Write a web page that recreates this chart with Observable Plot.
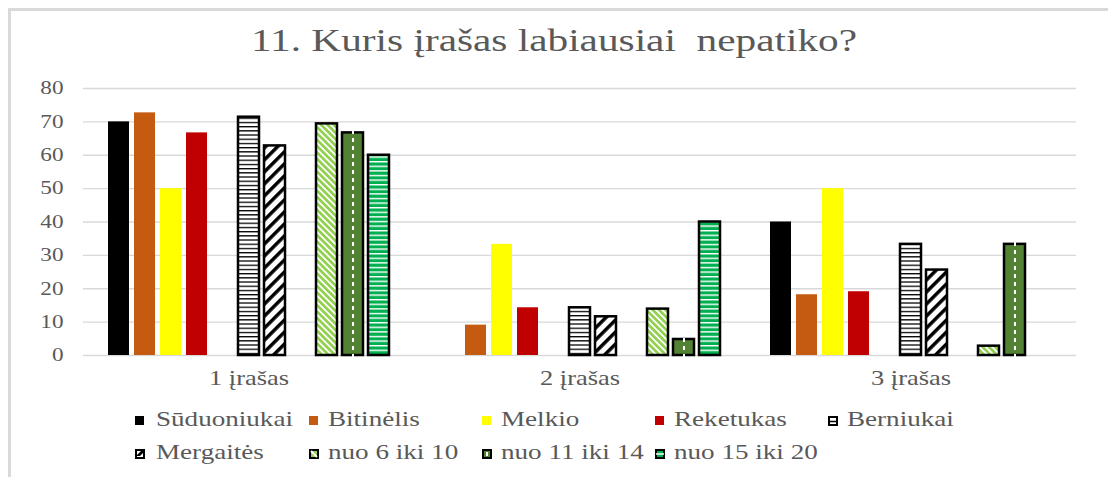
<!DOCTYPE html>
<html><head><meta charset="utf-8">
<script src="https://cdn.jsdelivr.net/npm/d3@7"></script>
<script src="https://cdn.jsdelivr.net/npm/@observablehq/plot@0.6"></script>
<style>
body{margin:0;background:#fff;}
#wrap{position:relative;width:1108px;height:477px;overflow:hidden;font-family:"Liberation Serif","Times New Roman",serif;color:#595959;background:#fff;}
#frame{position:absolute;left:8px;top:8px;width:1200px;height:600px;border-left:3px solid #d9d9d9;border-top:3px solid #d9d9d9;}
#title{position:absolute;left:0;width:1108px;top:22px;text-align:center;font-size:32px;white-space:nowrap;transform:scaleX(1.29);transform-origin:554px 0;}
#chart{position:absolute;left:0;top:0;}
.li{position:absolute;font-size:21px;white-space:nowrap;line-height:1;}
.li svg{position:absolute;left:0;}
.li span{position:absolute;white-space:nowrap;transform:scaleX(1.29);transform-origin:0 0;}
</style>
</head><body>
<div id="wrap">
<div id="frame"></div>
<div id="chart"></div>
<div id="title">11. Kuris įrašas labiausiai&nbsp; nepatiko?</div>
<div id="legend"></div>
</div>
<script>
const categories = ["1 įrašas", "2 įrašas", "3 įrašas"];
const seriesNames = ["Sūduoniukai", "Bitinėlis", "Melkio", "Reketukas", "Berniukai", "Mergaitės", "nuo 6 iki 10", "nuo 11 iki 14", "nuo 15 iki 20"];
const slots = ["Sūduoniukai", "Bitinėlis", "Melkio", "Reketukas", "gap1", "Berniukai", "Mergaitės", "gap2", "nuo 6 iki 10", "nuo 11 iki 14", "nuo 15 iki 20"];
const suduoniukai = [70, 0, 40];
const bitinelis = [72.7, 9.1, 18.2];
const melkio = [50, 33.3, 50];
const reketukas = [66.7, 14.3, 19.1];
const berniukai = [71.4, 14.3, 33.3];
const mergaites = [62.8, 11.6, 25.6];
const nuo6iki10 = [69.4, 13.9, 2.8];
const nuo11iki14 = [66.7, 4.8, 33.3];
const nuo15iki20 = [60, 40, 0];
const yTicks = [0, 10, 20, 30, 40, 50, 60, 70, 80];

const seriesValues = [suduoniukai, bitinelis, melkio, reketukas, berniukai, mergaites, nuo6iki10, nuo11iki14, nuo15iki20];
const styles = {
  "Sūduoniukai": {fill: "#000000", stroke: "none", sw: 0},
  "Bitinėlis": {fill: "#c55a11", stroke: "none", sw: 0},
  "Melkio": {fill: "#ffff00", stroke: "none", sw: 0},
  "Reketukas": {fill: "#c00000", stroke: "none", sw: 0},
  "Berniukai": {fill: "url(#pBern)", stroke: "#000", sw: 2.5},
  "Mergaitės": {fill: "url(#pMerg)", stroke: "#000", sw: 2.5},
  "nuo 6 iki 10": {fill: "url(#p610)", stroke: "#000", sw: 2.5},
  "nuo 11 iki 14": {fill: "#548235", stroke: "#000", sw: 2.5},
  "nuo 15 iki 20": {fill: "url(#p1520)", stroke: "#000", sw: 2.5}
};

const rows = [];
seriesNames.forEach((s, i) => categories.forEach((c, j) => rows.push({series: s, category: c, value: seriesValues[i][j]})));

const marks = [
  Plot.ruleY(yTicks, {y: d => d, stroke: "#d9d9d9", strokeWidth: 1.3})
];
seriesNames.forEach(s => {
  const st = styles[s];
  marks.push(Plot.barY(rows.filter(r => r.series === s && r.value > 0), {
    fx: "category", x: "series", y: "value", fill: st.fill, stroke: st.stroke, strokeWidth: st.sw, inset: 0
  }));
});
marks.push(Plot.ruleX(rows.filter(r => r.series === "nuo 11 iki 14" && r.value > 0), {
  fx: "category", x: "series", y1: 0, y2: r => r.value, stroke: "#fff", strokeWidth: 2, strokeDasharray: "4,4", insetTop: 3, insetBottom: 2
}));

const chart = Plot.plot({
  width: 1108,
  height: 395,
  marginTop: 88,
  marginBottom: 40,
  marginLeft: 82,
  marginRight: 31,
  style: {fontFamily: "'Liberation Serif', 'Times New Roman', serif", fontSize: "18px", color: "#595959", background: "transparent"},
  fx: {domain: categories, padding: 0, axis: "bottom", tickSize: 0, tickPadding: 15, label: null},
  x: {domain: slots, paddingInner: 0.21, paddingOuter: 0.85, axis: null},
  y: {domain: [0, 80], ticks: yTicks, tickSize: 0, tickPadding: 20, label: null},
  marks
});

const svg = d3.select(chart);
const defs = svg.insert("defs", ":first-child");
function stripes(id, bg, fg, size, thick, rot) {
  const p = defs.append("pattern").attr("id", id).attr("patternUnits", "userSpaceOnUse")
    .attr("width", size).attr("height", size).attr("patternTransform", rot ? `rotate(${rot})` : null);
  p.append("rect").attr("width", size).attr("height", size).attr("fill", bg);
  if (rot) p.append("rect").attr("width", thick).attr("height", size).attr("fill", fg);
  else p.append("rect").attr("width", size).attr("height", thick).attr("fill", fg);
}
stripes("pBern", "#fff", "#000", 4.2, 1.3, 0);
stripes("pMerg", "#fff", "#000", 8.5, 3.5, 45);
stripes("p610", "#92d050", "#fff", 4.5, 1.8, -45);
stripes("p1520", "#00b050", "#fff", 4.6, 1.4, 0);

// horizontal stretch of axis texts, like the reference rendering
const S = 1.29;
svg.selectAll("text").each(function () {
  const t = d3.select(this);
  const x = +t.attr("x") || 0;
  const tr = t.attr("transform") || "";
  t.attr("transform", `${tr} translate(${x},0) scale(${S},1) translate(${-x},0)`);
  if (categories.includes(this.textContent)) t.style("font-size", "20.5px");
});
document.getElementById("chart").appendChild(chart);

// legend
const legendItems = [
  {name: "Sūduoniukai", x: 135, y: 0}, {name: "Bitinėlis", x: 309, y: 0}, {name: "Melkio", x: 482, y: 0},
  {name: "Reketukas", x: 655, y: 0}, {name: "Berniukai", x: 828, y: 0},
  {name: "Mergaitės", x: 135, y: 1}, {name: "nuo 6 iki 10", x: 309, y: 1}, {name: "nuo 11 iki 14", x: 482, y: 1},
  {name: "nuo 15 iki 20", x: 655, y: 1}
];
const icons = {
  "Sūduoniukai": `<rect x="0" y="0" width="9" height="9" fill="#000"/>`,
  "Bitinėlis": `<rect x="0" y="0" width="9" height="9" fill="#c55a11"/>`,
  "Melkio": `<rect x="0" y="0" width="9" height="9" fill="#ffff00"/>`,
  "Reketukas": `<rect x="0" y="0" width="9" height="9" fill="#c00000"/>`,
  "Berniukai": `<rect x="1" y="1" width="8" height="8" fill="#fff" stroke="#000" stroke-width="2"/><line x1="1" x2="9" y1="5.5" y2="5.5" stroke="#000" stroke-width="1.5"/>`,
  "Mergaitės": `<rect x="1" y="1" width="8" height="8" fill="#fff" stroke="#000" stroke-width="2"/><path d="M1,7 L5,7 L9,3 L9,1 L7,1 Z" fill="#000"/>`,
  "nuo 6 iki 10": `<rect x="1" y="1" width="8" height="8" fill="#92d050" stroke="#000" stroke-width="2"/><line x1="2" y1="2" x2="8" y2="8" stroke="#fff" stroke-width="2"/>`,
  "nuo 11 iki 14": `<rect x="1" y="1" width="8" height="8" fill="#548235" stroke="#000" stroke-width="2"/><rect x="4" y="3" width="2" height="4" fill="#fff"/>`,
  "nuo 15 iki 20": `<rect x="1" y="1" width="8" height="8" fill="#00b050" stroke="#000" stroke-width="2"/><line x1="1" x2="9" y1="5" y2="5" stroke="#fff" stroke-width="1.5"/>`
};
const rowY = [416, 449];
const leg = document.getElementById("legend");
legendItems.forEach(it => {
  const d = document.createElement("div");
  d.className = "li";
  d.style.left = it.x + "px";
  d.style.top = rowY[it.y] + "px";
  d.innerHTML = `<svg width="10" height="10" style="top:0">${icons[it.name]}</svg><span style="left:${it.name === "Sūduoniukai" || it.name === "Mergaitės" ? 21 : 19}px;top:-7px">${it.name}</span>`;
  leg.appendChild(d);
});
</script>
</body></html>
